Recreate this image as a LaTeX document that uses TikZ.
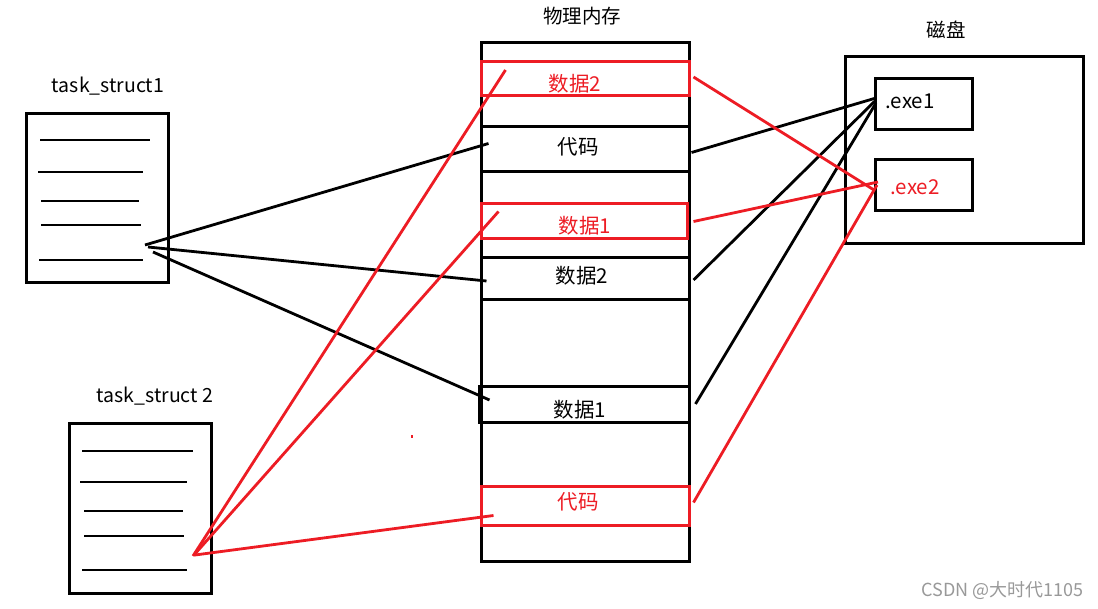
\documentclass[tikz,border=0pt]{standalone}
\usepackage{fontspec}
\setmainfont{Noto Sans CJK SC}
\usetikzlibrary{calc}
\definecolor{pred}{RGB}{237,28,36}
\tikzset{
  bx/.style={draw=black,line width=3pt,rectangle,inner sep=0pt},
  rbx/.style={draw=pred,line width=3pt,rectangle,inner sep=0pt},
  lbl/.style={inner sep=0pt,font=\fontsize{20.5}{20.5}\selectfont},
  ttl/.style={inner sep=0pt,font=\fontsize{19.5}{19.5}\selectfont},
  bl/.style={draw=black,line width=2.8pt},
  rl/.style={draw=pred,line width=2.8pt},
  row/.style={line width=2.2pt},
}
\begin{document}
\begin{tikzpicture}[x=1pt,y=-1pt]
\useasboundingbox[fill=white] (0,0) rectangle (1098,609);
% task_struct1
\node[bx,minimum width=142pt,minimum height=169pt] (t1) at (97,198.5) {};
\node[ttl] (t1l) at (108,86) {task\_struct1};
\draw[row] (40,140)--(150,140) (38,172)--(143,172) (41,201)--(139,201) (41,225)--(141,225) (39,260)--(143,260);
% task_struct2
\node[bx,minimum width=142pt,minimum height=169pt] (t2) at (140,508.5) {};
\node[ttl] (t2l) at (155,396) {task\_struct 2};
\draw[row] (82,451)--(193,451) (80,482)--(187,482) (84,511)--(183,511) (84,536)--(184,536) (82,570)--(187,570);
% memory
\node[bx,minimum width=208pt,minimum height=518pt] (mem) at (585,302) {};
\node[ttl] (meml) at (582,16) {物理内存};
\node[bx,minimum width=208pt,minimum height=45pt] (bc) at (585,149.5) {};
\node[lbl] (bct) at (578,147) {代码};
\node[bx,minimum width=208pt,minimum height=42pt] (bd2) at (585,279) {};
\node[lbl] (bd2t) at (582,276) {数据2};
\node[bx,minimum width=210pt,minimum height=36pt] (bd1) at (584,405) {};
\node[lbl] (bd1t) at (580,410) {数据1};
\node[rbx,minimum width=208pt,minimum height=34pt] (rd2) at (585,79) {};
\node[lbl,text=pred] (rd2t) at (575,84) {数据2};
\node[rbx,minimum width=206pt,minimum height=35pt] (rd1) at (584,221.5) {};
\node[lbl,text=pred] (rd1t) at (585,226) {数据1};
\node[rbx,minimum width=208pt,minimum height=39pt] (rc) at (585,505.5) {};
\node[lbl,text=pred] (rct) at (578,502) {代码};
% disk
\node[bx,minimum width=238pt,minimum height=187pt] (disk) at (964,150.5) {};
\node[ttl] (diskl) at (946,30) {磁盘};
\node[bx,minimum width=97pt,minimum height=51pt] (e1) at (923.5,104.5) {};
\node[lbl] (e1t) at (910,101) {.exe1};
\node[bx,minimum width=97pt,minimum height=51pt] (e2) at (923.5,185.5) {};
\node[lbl,text=pred] (e2t) at (915,187) {.exe2};
% anchor points
\coordinate (s1) at (145,245);
\coordinate (s2) at (193,556);
\coordinate (x1) at (876,98);
\coordinate (x2) at (877,185);
% black connectors
\draw[bl] (s1) -- ([shift={(9,-6)}]bc.west);
\draw[bl] ([shift={(3,2)}]s1) -- ([shift={(7,2)}]bd2.west);
\draw[bl] ([shift={(8,7)}]s1) -- ([shift={(12,-5)}]bd1.west);
\draw[bl] ([shift={(1,3)}]bc.east) -- (x1);
\draw[bl] ([shift={(3,1)}]bd2.east) -- ([shift={(0,2)}]x1);
\draw[bl] ([shift={(5,-1)}]bd1.east) -- ([shift={(0,5)}]x1);
% red connectors
\draw[rl] (s2) -- ([shift={(26,-9)}]rd2.west);
\draw[rl] ([shift={(1,-1)}]s2) -- ([shift={(19,-10)}]rd1.west);
\draw[rl] ([shift={(2,-1)}]s2) -- ([shift={(14,10)}]rc.west);
\draw[rl] ([shift={(3,-2)}]rd2.east) -- ([shift={(-3,5)}]x2);
\draw[rl] ([shift={(5,0)}]rd1.east) -- ([shift={(1,-3)}]x2);
\draw[rl] ([shift={(3,-3)}]rc.east) -- (x2);
% stray dot
\fill[pred] (411,435) rectangle (413,438);
% watermark
\node[inner sep=0pt,text=black!40,font=\fontsize{18}{18}\selectfont,anchor=east] (wm) at (1084,591) {CSDN @大时代1105};
\end{tikzpicture}
\end{document}
